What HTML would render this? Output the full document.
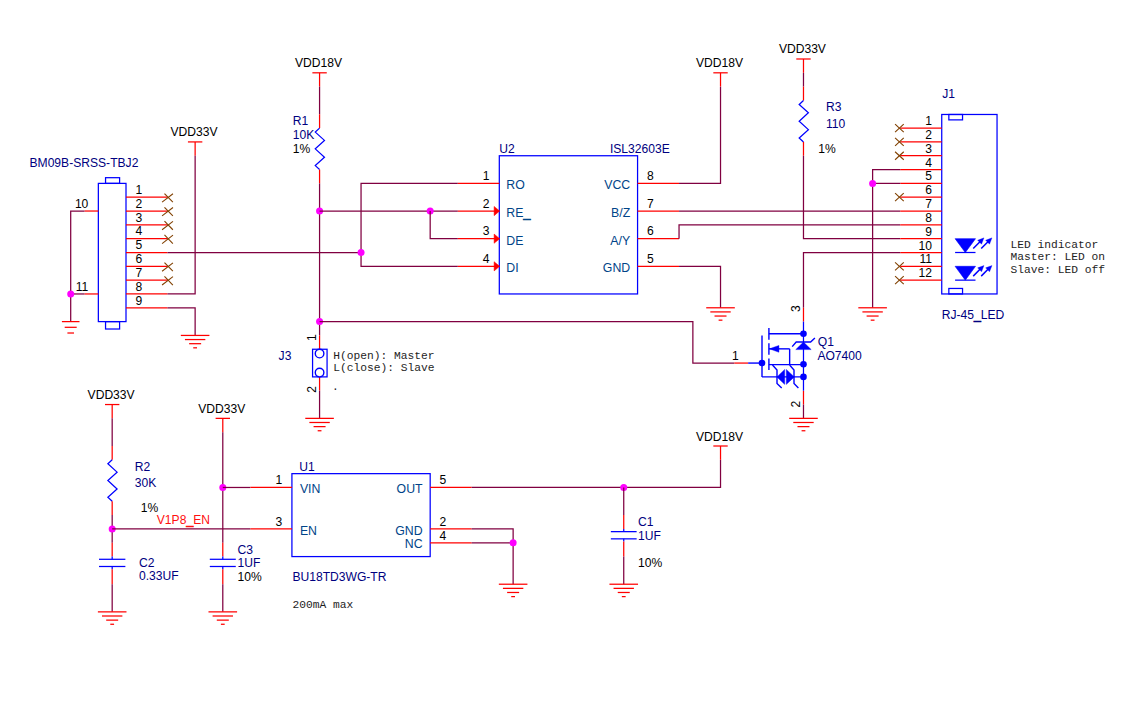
<!DOCTYPE html>
<html lang="en">
<head>
<meta charset="utf-8">
<title>RS-485 interface schematic</title>
<style>
html,body{margin:0;padding:0;background:#fff;}
body{width:1125px;height:716px;overflow:hidden;}
svg{display:block;}
text.s{font-family:"Liberation Sans",sans-serif;}
text.m{font-family:"Liberation Mono",monospace;fill:#1e1e1e;}
</style>
</head>
<body>
<svg width="1125" height="716" viewBox="0 0 1125 716">
<rect x="0" y="0" width="1125" height="716" fill="#ffffff"/>
<rect x="98.35" y="183.39" width="27.65" height="138.22" fill="none" stroke="#0000ff" stroke-width="1.25"/>
<rect x="105.55" y="177.69" width="14.05" height="5.70" fill="none" stroke="#0000ff" stroke-width="1.25"/>
<rect x="105.55" y="321.61" width="14.05" height="7.40" fill="none" stroke="#0000ff" stroke-width="1.25"/>
<line x1="126.00" y1="197.21" x2="167.48" y2="197.21" stroke="#ff0000" stroke-width="1.25"/>
<text class="s" x="135.50" y="194.01" fill="#000000" font-size="12.1" text-anchor="start">1</text>
<line x1="126.00" y1="211.03" x2="167.48" y2="211.03" stroke="#ff0000" stroke-width="1.25"/>
<text class="s" x="135.50" y="207.83" fill="#000000" font-size="12.1" text-anchor="start">2</text>
<line x1="126.00" y1="224.85" x2="167.48" y2="224.85" stroke="#ff0000" stroke-width="1.25"/>
<text class="s" x="135.50" y="221.65" fill="#000000" font-size="12.1" text-anchor="start">3</text>
<line x1="126.00" y1="238.67" x2="167.48" y2="238.67" stroke="#ff0000" stroke-width="1.25"/>
<text class="s" x="135.50" y="235.47" fill="#000000" font-size="12.1" text-anchor="start">4</text>
<line x1="126.00" y1="252.50" x2="167.48" y2="252.50" stroke="#ff0000" stroke-width="1.25"/>
<text class="s" x="135.50" y="249.30" fill="#000000" font-size="12.1" text-anchor="start">5</text>
<line x1="126.00" y1="266.32" x2="167.48" y2="266.32" stroke="#ff0000" stroke-width="1.25"/>
<text class="s" x="135.50" y="263.12" fill="#000000" font-size="12.1" text-anchor="start">6</text>
<line x1="126.00" y1="280.14" x2="167.48" y2="280.14" stroke="#ff0000" stroke-width="1.25"/>
<text class="s" x="135.50" y="276.94" fill="#000000" font-size="12.1" text-anchor="start">7</text>
<line x1="126.00" y1="293.96" x2="167.48" y2="293.96" stroke="#ff0000" stroke-width="1.25"/>
<text class="s" x="135.50" y="290.76" fill="#000000" font-size="12.1" text-anchor="start">8</text>
<line x1="126.00" y1="307.78" x2="167.48" y2="307.78" stroke="#ff0000" stroke-width="1.25"/>
<text class="s" x="135.50" y="304.58" fill="#000000" font-size="12.1" text-anchor="start">9</text>
<line x1="164.48" y1="193.51" x2="172.88" y2="202.11" stroke="#804000" stroke-width="1.1"/>
<line x1="162.08" y1="202.11" x2="172.98" y2="193.71" stroke="#804000" stroke-width="1.1"/>
<line x1="164.48" y1="207.33" x2="172.88" y2="215.93" stroke="#804000" stroke-width="1.1"/>
<line x1="162.08" y1="215.93" x2="172.98" y2="207.53" stroke="#804000" stroke-width="1.1"/>
<line x1="164.48" y1="221.15" x2="172.88" y2="229.75" stroke="#804000" stroke-width="1.1"/>
<line x1="162.08" y1="229.75" x2="172.98" y2="221.35" stroke="#804000" stroke-width="1.1"/>
<line x1="164.48" y1="234.97" x2="172.88" y2="243.57" stroke="#804000" stroke-width="1.1"/>
<line x1="162.08" y1="243.57" x2="172.98" y2="235.17" stroke="#804000" stroke-width="1.1"/>
<line x1="164.48" y1="262.62" x2="172.88" y2="271.22" stroke="#804000" stroke-width="1.1"/>
<line x1="162.08" y1="271.22" x2="172.98" y2="262.82" stroke="#804000" stroke-width="1.1"/>
<line x1="164.48" y1="276.44" x2="172.88" y2="285.04" stroke="#804000" stroke-width="1.1"/>
<line x1="162.08" y1="285.04" x2="172.98" y2="276.64" stroke="#804000" stroke-width="1.1"/>
<line x1="84.53" y1="211.03" x2="98.35" y2="211.03" stroke="#ff0000" stroke-width="1.25"/>
<line x1="84.53" y1="293.96" x2="98.35" y2="293.96" stroke="#ff0000" stroke-width="1.25"/>
<text class="s" x="88.35" y="207.83" fill="#000000" font-size="12.1" text-anchor="end">10</text>
<text class="s" x="88.35" y="290.76" fill="#000000" font-size="12.1" text-anchor="end">11</text>
<polyline points="84.53,211.03 70.70,211.03 70.70,321.61" fill="none" stroke="#800040" stroke-width="1.25"/>
<polyline points="84.53,293.96 70.70,293.96" fill="none" stroke="#800040" stroke-width="1.25"/>
<circle cx="70.70" cy="293.96" r="3.5" fill="#ff00ff"/>
<line x1="61.90" y1="321.61" x2="79.50" y2="321.61" stroke="#ff0000" stroke-width="1.25"/>
<line x1="64.70" y1="327.31" x2="76.70" y2="327.31" stroke="#ff0000" stroke-width="1.25"/>
<line x1="67.40" y1="333.01" x2="74.00" y2="333.01" stroke="#ff0000" stroke-width="1.25"/>
<text class="s" x="29.50" y="166.60" fill="#000080" font-size="12.1" text-anchor="start">BM09B-SRSS-TBJ2</text>
<line x1="187.93" y1="141.92" x2="202.33" y2="141.92" stroke="#ff0000" stroke-width="1.25"/>
<line x1="195.13" y1="141.92" x2="195.13" y2="155.74" stroke="#ff0000" stroke-width="1.25"/>
<text class="s" x="170.53" y="136.42" fill="#000000" font-size="12.1" text-anchor="start">VDD33V</text>
<polyline points="195.13,155.74 195.13,293.96 167.48,293.96" fill="none" stroke="#800040" stroke-width="1.25"/>
<polyline points="167.48,307.78 195.13,307.78 195.13,335.43" fill="none" stroke="#800040" stroke-width="1.25"/>
<line x1="180.83" y1="335.43" x2="209.43" y2="335.43" stroke="#ff0000" stroke-width="1.25"/>
<line x1="184.93" y1="339.56" x2="205.33" y2="339.56" stroke="#ff0000" stroke-width="1.25"/>
<line x1="189.13" y1="343.69" x2="201.13" y2="343.69" stroke="#ff0000" stroke-width="1.25"/>
<line x1="193.23" y1="347.82" x2="197.03" y2="347.82" stroke="#ff0000" stroke-width="1.25"/>
<polyline points="167.48,252.50 361.05,252.50" fill="none" stroke="#800040" stroke-width="1.25"/>
<line x1="312.37" y1="72.81" x2="326.77" y2="72.81" stroke="#ff0000" stroke-width="1.25"/>
<line x1="319.57" y1="72.81" x2="319.57" y2="86.63" stroke="#ff0000" stroke-width="1.25"/>
<text class="s" x="294.97" y="67.31" fill="#000000" font-size="12.1" text-anchor="start">VDD18V</text>
<polyline points="319.57,86.63 319.57,114.28" fill="none" stroke="#800040" stroke-width="1.25"/>
<line x1="319.57" y1="114.28" x2="319.57" y2="128.10" stroke="#ff0000" stroke-width="1.25"/>
<polyline points="319.57,128.10 315.27,132.10 324.47,140.40 315.27,148.85 324.47,157.30 315.27,165.60 319.57,169.57" fill="none" stroke="#0000ff" stroke-width="1.25" stroke-linejoin="miter"/>
<line x1="319.57" y1="169.56" x2="319.57" y2="183.39" stroke="#ff0000" stroke-width="1.25"/>
<polyline points="319.57,183.39 319.57,335.43" fill="none" stroke="#800040" stroke-width="1.25"/>
<text class="s" x="292.80" y="124.50" fill="#000080" font-size="12.1" text-anchor="start">R1</text>
<text class="s" x="292.80" y="138.50" fill="#000080" font-size="12.1" text-anchor="start">10K</text>
<text class="s" x="292.80" y="153.00" fill="#000000" font-size="12.1" text-anchor="start">1%</text>
<circle cx="319.57" cy="211.03" r="3.5" fill="#ff00ff"/>
<circle cx="319.57" cy="321.61" r="3.5" fill="#ff00ff"/>
<polyline points="319.57,211.03 457.83,211.03" fill="none" stroke="#800040" stroke-width="1.25"/>
<circle cx="430.18" cy="211.03" r="3.5" fill="#ff00ff"/>
<polyline points="430.18,211.03 430.18,238.67 457.83,238.67" fill="none" stroke="#800040" stroke-width="1.25"/>
<polyline points="457.83,183.39 361.05,183.39 361.05,266.32 457.83,266.32" fill="none" stroke="#800040" stroke-width="1.25"/>
<circle cx="361.05" cy="252.50" r="3.5" fill="#ff00ff"/>
<rect x="499.31" y="155.74" width="138.26" height="138.22" fill="none" stroke="#0000ff" stroke-width="1.25"/>
<text class="s" x="499.31" y="152.80" fill="#000080" font-size="12.1" text-anchor="start">U2</text>
<text class="s" x="609.90" y="152.80" fill="#000080" font-size="12.1" text-anchor="start">ISL32603E</text>
<line x1="457.83" y1="183.39" x2="499.31" y2="183.39" stroke="#ff0000" stroke-width="1.25"/>
<text class="s" x="489.51" y="180.09" fill="#000000" font-size="12.1" text-anchor="end">1</text>
<text class="s" x="506.31" y="189.49" fill="#004488" font-size="12.3" text-anchor="start">RO</text>
<line x1="457.83" y1="211.03" x2="499.31" y2="211.03" stroke="#ff0000" stroke-width="1.25"/>
<text class="s" x="489.51" y="207.73" fill="#000000" font-size="12.1" text-anchor="end">2</text>
<text class="s" x="506.31" y="217.13" fill="#004488" font-size="12.3" text-anchor="start">RE<tspan stroke="#004488" stroke-width="0.9">_</tspan></text>
<polygon points="494.11,206.43 499.61,211.03 494.11,215.63" fill="#ff0000" stroke="#ff0000" stroke-width="0.5" stroke-linejoin="miter"/>
<line x1="457.83" y1="238.67" x2="499.31" y2="238.67" stroke="#ff0000" stroke-width="1.25"/>
<text class="s" x="489.51" y="235.37" fill="#000000" font-size="12.1" text-anchor="end">3</text>
<text class="s" x="506.31" y="244.77" fill="#004488" font-size="12.3" text-anchor="start">DE</text>
<polygon points="494.11,234.07 499.61,238.67 494.11,243.27" fill="#ff0000" stroke="#ff0000" stroke-width="0.5" stroke-linejoin="miter"/>
<line x1="457.83" y1="266.32" x2="499.31" y2="266.32" stroke="#ff0000" stroke-width="1.25"/>
<text class="s" x="489.51" y="263.02" fill="#000000" font-size="12.1" text-anchor="end">4</text>
<text class="s" x="506.31" y="272.42" fill="#004488" font-size="12.3" text-anchor="start">DI</text>
<polygon points="494.11,261.72 499.61,266.32 494.11,270.92" fill="#ff0000" stroke="#ff0000" stroke-width="0.5" stroke-linejoin="miter"/>
<line x1="637.57" y1="183.39" x2="679.04" y2="183.39" stroke="#ff0000" stroke-width="1.25"/>
<text class="s" x="647.07" y="180.09" fill="#000000" font-size="12.1" text-anchor="start">8</text>
<text class="s" x="630.17" y="189.49" fill="#004488" font-size="12.3" text-anchor="end">VCC</text>
<line x1="637.57" y1="211.03" x2="679.04" y2="211.03" stroke="#ff0000" stroke-width="1.25"/>
<text class="s" x="647.07" y="207.73" fill="#000000" font-size="12.1" text-anchor="start">7</text>
<text class="s" x="630.17" y="217.13" fill="#004488" font-size="12.3" text-anchor="end">B/Z</text>
<line x1="637.57" y1="238.67" x2="679.04" y2="238.67" stroke="#ff0000" stroke-width="1.25"/>
<text class="s" x="647.07" y="235.37" fill="#000000" font-size="12.1" text-anchor="start">6</text>
<text class="s" x="630.17" y="244.77" fill="#004488" font-size="12.3" text-anchor="end">A/Y</text>
<line x1="637.57" y1="266.32" x2="679.04" y2="266.32" stroke="#ff0000" stroke-width="1.25"/>
<text class="s" x="647.07" y="263.02" fill="#000000" font-size="12.1" text-anchor="start">5</text>
<text class="s" x="630.17" y="272.42" fill="#004488" font-size="12.3" text-anchor="end">GND</text>
<line x1="713.32" y1="72.81" x2="727.72" y2="72.81" stroke="#ff0000" stroke-width="1.25"/>
<line x1="720.52" y1="72.81" x2="720.52" y2="86.63" stroke="#ff0000" stroke-width="1.25"/>
<text class="s" x="695.92" y="67.31" fill="#000000" font-size="12.1" text-anchor="start">VDD18V</text>
<polyline points="679.04,183.39 720.52,183.39 720.52,86.63" fill="none" stroke="#800040" stroke-width="1.25"/>
<polyline points="679.04,266.32 720.52,266.32 720.52,307.78" fill="none" stroke="#800040" stroke-width="1.25"/>
<line x1="706.22" y1="307.78" x2="734.82" y2="307.78" stroke="#ff0000" stroke-width="1.25"/>
<line x1="710.32" y1="311.91" x2="730.72" y2="311.91" stroke="#ff0000" stroke-width="1.25"/>
<line x1="714.52" y1="316.04" x2="726.52" y2="316.04" stroke="#ff0000" stroke-width="1.25"/>
<line x1="718.62" y1="320.17" x2="722.42" y2="320.17" stroke="#ff0000" stroke-width="1.25"/>
<polyline points="679.04,211.03 900.26,211.03" fill="none" stroke="#800040" stroke-width="1.25"/>
<polyline points="679.04,238.67 679.04,224.85 900.26,224.85" fill="none" stroke="#800040" stroke-width="1.25"/>
<line x1="796.28" y1="58.99" x2="810.68" y2="58.99" stroke="#ff0000" stroke-width="1.25"/>
<line x1="803.48" y1="58.99" x2="803.48" y2="72.81" stroke="#ff0000" stroke-width="1.25"/>
<text class="s" x="778.88" y="53.49" fill="#000000" font-size="12.1" text-anchor="start">VDD33V</text>
<polyline points="803.48,72.81 803.48,86.63" fill="none" stroke="#800040" stroke-width="1.25"/>
<line x1="803.48" y1="86.63" x2="803.48" y2="100.45" stroke="#ff0000" stroke-width="1.25"/>
<polyline points="803.48,100.45 799.18,104.45 808.38,112.75 799.18,121.20 808.38,129.65 799.18,137.95 803.48,141.92" fill="none" stroke="#0000ff" stroke-width="1.25" stroke-linejoin="miter"/>
<line x1="803.48" y1="141.92" x2="803.48" y2="155.74" stroke="#ff0000" stroke-width="1.25"/>
<polyline points="803.48,155.74 803.48,238.67 900.26,238.67" fill="none" stroke="#800040" stroke-width="1.25"/>
<text class="s" x="826.00" y="110.60" fill="#000080" font-size="12.1" text-anchor="start">R3</text>
<text class="s" x="826.00" y="127.80" fill="#000080" font-size="12.1" text-anchor="start">110</text>
<text class="s" x="818.30" y="152.80" fill="#000000" font-size="12.1" text-anchor="start">1%</text>
<rect x="941.74" y="114.48" width="55.30" height="179.48" fill="none" stroke="#0000ff" stroke-width="1.25"/>
<rect x="948.84" y="114.48" width="13.70" height="5.40" fill="none" stroke="#0000ff" stroke-width="1.25"/>
<rect x="948.84" y="288.46" width="13.70" height="5.50" fill="none" stroke="#0000ff" stroke-width="1.25"/>
<line x1="900.26" y1="128.10" x2="941.74" y2="128.10" stroke="#ff0000" stroke-width="1.25"/>
<text class="s" x="931.94" y="125.10" fill="#000000" font-size="12.1" text-anchor="end">1</text>
<line x1="900.26" y1="141.92" x2="941.74" y2="141.92" stroke="#ff0000" stroke-width="1.25"/>
<text class="s" x="931.94" y="138.92" fill="#000000" font-size="12.1" text-anchor="end">2</text>
<line x1="900.26" y1="155.74" x2="941.74" y2="155.74" stroke="#ff0000" stroke-width="1.25"/>
<text class="s" x="931.94" y="152.74" fill="#000000" font-size="12.1" text-anchor="end">3</text>
<line x1="900.26" y1="169.56" x2="941.74" y2="169.56" stroke="#ff0000" stroke-width="1.25"/>
<text class="s" x="931.94" y="166.56" fill="#000000" font-size="12.1" text-anchor="end">4</text>
<line x1="900.26" y1="183.39" x2="941.74" y2="183.39" stroke="#ff0000" stroke-width="1.25"/>
<text class="s" x="931.94" y="180.39" fill="#000000" font-size="12.1" text-anchor="end">5</text>
<line x1="900.26" y1="197.21" x2="941.74" y2="197.21" stroke="#ff0000" stroke-width="1.25"/>
<text class="s" x="931.94" y="194.21" fill="#000000" font-size="12.1" text-anchor="end">6</text>
<line x1="900.26" y1="211.03" x2="941.74" y2="211.03" stroke="#ff0000" stroke-width="1.25"/>
<text class="s" x="931.94" y="208.03" fill="#000000" font-size="12.1" text-anchor="end">7</text>
<line x1="900.26" y1="224.85" x2="941.74" y2="224.85" stroke="#ff0000" stroke-width="1.25"/>
<text class="s" x="931.94" y="221.85" fill="#000000" font-size="12.1" text-anchor="end">8</text>
<line x1="900.26" y1="238.67" x2="941.74" y2="238.67" stroke="#ff0000" stroke-width="1.25"/>
<text class="s" x="931.94" y="235.67" fill="#000000" font-size="12.1" text-anchor="end">9</text>
<line x1="900.26" y1="252.50" x2="941.74" y2="252.50" stroke="#ff0000" stroke-width="1.25"/>
<text class="s" x="931.94" y="249.50" fill="#000000" font-size="12.1" text-anchor="end">10</text>
<line x1="900.26" y1="266.32" x2="941.74" y2="266.32" stroke="#ff0000" stroke-width="1.25"/>
<text class="s" x="931.94" y="263.32" fill="#000000" font-size="12.1" text-anchor="end">11</text>
<line x1="900.26" y1="280.14" x2="941.74" y2="280.14" stroke="#ff0000" stroke-width="1.25"/>
<text class="s" x="931.94" y="277.14" fill="#000000" font-size="12.1" text-anchor="end">12</text>
<line x1="895.06" y1="124.10" x2="903.76" y2="132.10" stroke="#804000" stroke-width="1.1"/>
<line x1="895.06" y1="132.10" x2="903.76" y2="124.10" stroke="#804000" stroke-width="1.1"/>
<line x1="895.06" y1="137.92" x2="903.76" y2="145.92" stroke="#804000" stroke-width="1.1"/>
<line x1="895.06" y1="145.92" x2="903.76" y2="137.92" stroke="#804000" stroke-width="1.1"/>
<line x1="895.06" y1="151.74" x2="903.76" y2="159.74" stroke="#804000" stroke-width="1.1"/>
<line x1="895.06" y1="159.74" x2="903.76" y2="151.74" stroke="#804000" stroke-width="1.1"/>
<line x1="895.06" y1="193.21" x2="903.76" y2="201.21" stroke="#804000" stroke-width="1.1"/>
<line x1="895.06" y1="201.21" x2="903.76" y2="193.21" stroke="#804000" stroke-width="1.1"/>
<line x1="895.06" y1="262.32" x2="903.76" y2="270.32" stroke="#804000" stroke-width="1.1"/>
<line x1="895.06" y1="270.32" x2="903.76" y2="262.32" stroke="#804000" stroke-width="1.1"/>
<line x1="895.06" y1="276.14" x2="903.76" y2="284.14" stroke="#804000" stroke-width="1.1"/>
<line x1="895.06" y1="284.14" x2="903.76" y2="276.14" stroke="#804000" stroke-width="1.1"/>
<polyline points="900.26,169.56 872.61,169.56 872.61,307.78" fill="none" stroke="#800040" stroke-width="1.25"/>
<polyline points="900.26,183.39 872.61,183.39" fill="none" stroke="#800040" stroke-width="1.25"/>
<circle cx="872.61" cy="183.39" r="3.5" fill="#ff00ff"/>
<line x1="858.31" y1="307.78" x2="886.91" y2="307.78" stroke="#ff0000" stroke-width="1.25"/>
<line x1="862.41" y1="311.91" x2="882.81" y2="311.91" stroke="#ff0000" stroke-width="1.25"/>
<line x1="866.61" y1="316.04" x2="878.61" y2="316.04" stroke="#ff0000" stroke-width="1.25"/>
<line x1="870.71" y1="320.17" x2="874.51" y2="320.17" stroke="#ff0000" stroke-width="1.25"/>
<polyline points="900.26,252.50 803.48,252.50 803.48,307.78" fill="none" stroke="#800040" stroke-width="1.25"/>
<text class="s" x="942.30" y="97.80" fill="#000080" font-size="12.1" text-anchor="start">J1</text>
<text class="s" x="941.70" y="318.50" fill="#000080" font-size="12.1" text-anchor="start">RJ-45<tspan stroke="#000080" stroke-width="0.9">_</tspan>LED</text>
<polygon points="955.10,238.67 975.50,238.67 965.30,252.50" fill="#0000ff" stroke="#0000ff" stroke-width="0.6" stroke-linejoin="miter"/>
<line x1="955.10" y1="252.50" x2="975.50" y2="252.50" stroke="#0000ff" stroke-width="1.25"/>
<line x1="973.20" y1="248.50" x2="981.50" y2="240.17" stroke="#0000ff" stroke-width="1.5"/>
<polygon points="984.00,237.87 981.55,244.21 977.62,240.22" fill="#0000ff" stroke="#0000ff" stroke-width="0.3" stroke-linejoin="miter"/>
<line x1="981.20" y1="248.50" x2="989.50" y2="240.17" stroke="#0000ff" stroke-width="1.5"/>
<polygon points="992.00,237.87 989.55,244.21 985.62,240.22" fill="#0000ff" stroke="#0000ff" stroke-width="0.3" stroke-linejoin="miter"/>
<polygon points="955.10,266.32 975.50,266.32 965.30,280.14" fill="#0000ff" stroke="#0000ff" stroke-width="0.6" stroke-linejoin="miter"/>
<line x1="955.10" y1="280.14" x2="975.50" y2="280.14" stroke="#0000ff" stroke-width="1.25"/>
<line x1="973.20" y1="276.14" x2="981.50" y2="267.82" stroke="#0000ff" stroke-width="1.5"/>
<polygon points="984.00,265.52 981.54,271.86 977.62,267.87" fill="#0000ff" stroke="#0000ff" stroke-width="0.3" stroke-linejoin="miter"/>
<line x1="981.20" y1="276.14" x2="989.50" y2="267.82" stroke="#0000ff" stroke-width="1.5"/>
<polygon points="992.00,265.52 989.54,271.86 985.62,267.87" fill="#0000ff" stroke="#0000ff" stroke-width="0.3" stroke-linejoin="miter"/>
<text class="m" x="1010.60" y="248.10" fill="#000000" font-size="11.25" text-anchor="start">LED indicator</text>
<text class="m" x="1010.60" y="260.40" fill="#000000" font-size="11.25" text-anchor="start">Master: LED on</text>
<text class="m" x="1010.60" y="272.70" fill="#000000" font-size="11.25" text-anchor="start">Slave: LED off</text>
<line x1="319.57" y1="335.43" x2="319.57" y2="349.25" stroke="#ff0000" stroke-width="1.25"/>
<line x1="319.57" y1="376.89" x2="319.57" y2="390.72" stroke="#ff0000" stroke-width="1.25"/>
<rect x="312.57" y="349.25" width="14.50" height="27.64" fill="none" stroke="#0000ff" stroke-width="1.25"/>
<circle cx="319.57" cy="353.55" r="4.3" fill="#fff" stroke="#0000ff" stroke-width="1.4"/>
<circle cx="319.57" cy="372.59" r="4.3" fill="#fff" stroke="#0000ff" stroke-width="1.4"/>
<polyline points="319.57,390.72 319.57,418.36" fill="none" stroke="#800040" stroke-width="1.25"/>
<line x1="305.27" y1="418.36" x2="333.87" y2="418.36" stroke="#ff0000" stroke-width="1.25"/>
<line x1="309.37" y1="422.49" x2="329.77" y2="422.49" stroke="#ff0000" stroke-width="1.25"/>
<line x1="313.57" y1="426.62" x2="325.57" y2="426.62" stroke="#ff0000" stroke-width="1.25"/>
<line x1="317.67" y1="430.75" x2="321.47" y2="430.75" stroke="#ff0000" stroke-width="1.25"/>
<text class="s" x="278.60" y="359.60" fill="#000080" font-size="12.1" text-anchor="start">J3</text>
<text class="s" x="316.37" y="334.23" fill="#000000" font-size="12.1" text-anchor="end" transform="rotate(-90 316.37 334.23)">1</text>
<text class="s" x="316.37" y="392.72" fill="#000000" font-size="12.1" text-anchor="start" transform="rotate(-90 316.37 392.72)">2</text>
<text class="m" x="333.30" y="358.70" fill="#000000" font-size="11.25" text-anchor="start">H(open): Master</text>
<text class="m" x="333.30" y="370.90" fill="#000000" font-size="11.25" text-anchor="start">L(close): Slave</text>
<text class="m" x="332.00" y="390.30" fill="#000000" font-size="11.25" text-anchor="start">.</text>
<polyline points="319.57,321.61 692.87,321.61 692.87,363.07 734.35,363.07" fill="none" stroke="#800040" stroke-width="1.25"/>
<line x1="803.48" y1="307.78" x2="803.48" y2="321.61" stroke="#ff0000" stroke-width="1.25"/>
<line x1="803.48" y1="390.72" x2="803.48" y2="404.54" stroke="#ff0000" stroke-width="1.25"/>
<line x1="734.35" y1="363.07" x2="748.17" y2="363.07" stroke="#ff0000" stroke-width="1.25"/>
<line x1="803.48" y1="321.61" x2="803.48" y2="390.72" stroke="#0000ff" stroke-width="1.25"/>
<polyline points="803.48,404.54 803.48,418.36" fill="none" stroke="#800040" stroke-width="1.25"/>
<line x1="789.18" y1="418.36" x2="817.78" y2="418.36" stroke="#ff0000" stroke-width="1.25"/>
<line x1="793.28" y1="422.49" x2="813.68" y2="422.49" stroke="#ff0000" stroke-width="1.25"/>
<line x1="797.48" y1="426.62" x2="809.48" y2="426.62" stroke="#ff0000" stroke-width="1.25"/>
<line x1="801.58" y1="430.75" x2="805.38" y2="430.75" stroke="#ff0000" stroke-width="1.25"/>
<line x1="748.17" y1="363.07" x2="762.00" y2="363.07" stroke="#0000ff" stroke-width="1.4"/>
<line x1="762.00" y1="335.43" x2="762.00" y2="376.89" stroke="#0000ff" stroke-width="1.4"/>
<line x1="762.00" y1="376.89" x2="803.48" y2="376.89" stroke="#0000ff" stroke-width="1.4"/>
<line x1="768.91" y1="327.90" x2="768.91" y2="339.80" stroke="#0000ff" stroke-width="1.4"/>
<line x1="768.91" y1="343.20" x2="768.91" y2="354.70" stroke="#0000ff" stroke-width="1.4"/>
<line x1="768.91" y1="358.40" x2="768.91" y2="370.10" stroke="#0000ff" stroke-width="1.4"/>
<line x1="768.91" y1="333.80" x2="803.48" y2="333.80" stroke="#0000ff" stroke-width="1.4"/>
<line x1="768.91" y1="348.85" x2="789.65" y2="348.85" stroke="#0000ff" stroke-width="1.4"/>
<line x1="789.65" y1="348.85" x2="789.65" y2="364.60" stroke="#0000ff" stroke-width="1.4"/>
<line x1="768.91" y1="364.60" x2="803.48" y2="364.60" stroke="#0000ff" stroke-width="1.4"/>
<polygon points="769.41,348.85 778.91,345.45 778.91,352.25" fill="#0000ff" stroke="#0000ff" stroke-width="0.4" stroke-linejoin="miter"/>
<circle cx="803.48" cy="333.80" r="3.3" fill="#0000ff"/>
<circle cx="803.48" cy="364.20" r="3.3" fill="#0000ff"/>
<circle cx="803.48" cy="376.89" r="3.3" fill="#0000ff"/>
<circle cx="762.00" cy="363.07" r="3.3" fill="#0000ff"/>
<polygon points="803.48,342.00 795.78,349.60 811.18,349.60" fill="#0000ff" stroke="#0000ff" stroke-width="0.4" stroke-linejoin="miter"/>
<polyline points="792.20,346.60 796.20,342.00 810.60,342.00 814.90,338.00" fill="none" stroke="#0000ff" stroke-width="1.4" stroke-linejoin="miter"/>
<polygon points="776.90,376.89 784.70,369.39 784.70,384.39" fill="#0000ff" stroke="#0000ff" stroke-width="0.4" stroke-linejoin="miter"/>
<polygon points="794.30,376.89 786.30,369.39 786.30,384.39" fill="#0000ff" stroke="#0000ff" stroke-width="0.4" stroke-linejoin="miter"/>
<polyline points="772.50,365.00 777.00,370.00 777.00,383.40 781.70,387.90" fill="none" stroke="#0000ff" stroke-width="1.4" stroke-linejoin="miter"/>
<polyline points="789.60,365.00 794.00,370.00 794.00,383.40 798.40,387.90" fill="none" stroke="#0000ff" stroke-width="1.4" stroke-linejoin="miter"/>
<text class="s" x="817.80" y="345.70" fill="#000080" font-size="12.1" text-anchor="start">Q1</text>
<text class="s" x="817.40" y="359.60" fill="#000080" font-size="12.1" text-anchor="start">AO7400</text>
<text class="s" x="732.00" y="359.50" fill="#000000" font-size="12.1" text-anchor="start">1</text>
<text class="s" x="799.68" y="311.98" fill="#000000" font-size="12.1" text-anchor="start" transform="rotate(-90 799.68 311.98)">3</text>
<text class="s" x="799.68" y="407.54" fill="#000000" font-size="12.1" text-anchor="start" transform="rotate(-90 799.68 407.54)">2</text>
<line x1="104.98" y1="404.54" x2="119.38" y2="404.54" stroke="#ff0000" stroke-width="1.25"/>
<line x1="112.18" y1="404.54" x2="112.18" y2="418.36" stroke="#ff0000" stroke-width="1.25"/>
<text class="s" x="87.58" y="399.04" fill="#000000" font-size="12.1" text-anchor="start">VDD33V</text>
<polyline points="112.18,418.36 112.18,446.00" fill="none" stroke="#800040" stroke-width="1.25"/>
<line x1="112.18" y1="446.00" x2="112.18" y2="459.83" stroke="#ff0000" stroke-width="1.25"/>
<polyline points="112.18,459.83 107.88,463.83 117.08,472.13 107.88,480.58 117.08,489.03 107.88,497.33 112.18,501.30" fill="none" stroke="#0000ff" stroke-width="1.25" stroke-linejoin="miter"/>
<line x1="112.18" y1="501.29" x2="112.18" y2="515.11" stroke="#ff0000" stroke-width="1.25"/>
<polyline points="112.18,515.11 112.18,542.76" fill="none" stroke="#800040" stroke-width="1.25"/>
<circle cx="112.18" cy="528.94" r="3.5" fill="#ff00ff"/>
<polyline points="112.18,528.94 250.44,528.94" fill="none" stroke="#800040" stroke-width="1.25"/>
<line x1="112.18" y1="542.76" x2="112.18" y2="556.59" stroke="#ff0000" stroke-width="1.25"/>
<line x1="112.18" y1="556.59" x2="112.18" y2="559.29" stroke="#0000ff" stroke-width="1.25"/>
<line x1="98.98" y1="559.29" x2="125.38" y2="559.29" stroke="#0000ff" stroke-width="1.25"/>
<line x1="98.98" y1="566.49" x2="125.38" y2="566.49" stroke="#0000ff" stroke-width="1.25"/>
<line x1="112.18" y1="566.49" x2="112.18" y2="569.19" stroke="#0000ff" stroke-width="1.25"/>
<line x1="112.18" y1="569.19" x2="112.18" y2="584.22" stroke="#ff0000" stroke-width="1.25"/>
<polyline points="112.18,584.22 112.18,611.87" fill="none" stroke="#800040" stroke-width="1.25"/>
<line x1="97.88" y1="611.87" x2="126.48" y2="611.87" stroke="#ff0000" stroke-width="1.25"/>
<line x1="101.98" y1="616.00" x2="122.38" y2="616.00" stroke="#ff0000" stroke-width="1.25"/>
<line x1="106.18" y1="620.13" x2="118.18" y2="620.13" stroke="#ff0000" stroke-width="1.25"/>
<line x1="110.28" y1="624.26" x2="114.08" y2="624.26" stroke="#ff0000" stroke-width="1.25"/>
<text class="s" x="134.70" y="470.50" fill="#000080" font-size="12.1" text-anchor="start">R2</text>
<text class="s" x="134.70" y="486.60" fill="#000080" font-size="12.1" text-anchor="start">30K</text>
<text class="s" x="140.70" y="511.60" fill="#000000" font-size="12.1" text-anchor="start">1%</text>
<text class="s" x="156.80" y="524.30" fill="#ff1010" font-size="12.1" text-anchor="start">V1P8<tspan stroke="#ff1010" stroke-width="0.9">_</tspan>EN</text>
<text class="s" x="139.00" y="566.50" fill="#000080" font-size="12.1" text-anchor="start">C2</text>
<text class="s" x="139.00" y="579.80" fill="#000080" font-size="12.1" text-anchor="start">0.33UF</text>
<line x1="215.59" y1="418.36" x2="229.99" y2="418.36" stroke="#ff0000" stroke-width="1.25"/>
<line x1="222.79" y1="418.36" x2="222.79" y2="432.18" stroke="#ff0000" stroke-width="1.25"/>
<text class="s" x="198.19" y="412.86" fill="#000000" font-size="12.1" text-anchor="start">VDD33V</text>
<polyline points="222.79,432.18 222.79,542.76" fill="none" stroke="#800040" stroke-width="1.25"/>
<circle cx="222.79" cy="487.47" r="3.5" fill="#ff00ff"/>
<polyline points="222.79,487.47 250.44,487.47" fill="none" stroke="#800040" stroke-width="1.25"/>
<line x1="222.79" y1="542.76" x2="222.79" y2="556.59" stroke="#ff0000" stroke-width="1.25"/>
<line x1="222.79" y1="556.59" x2="222.79" y2="559.29" stroke="#0000ff" stroke-width="1.25"/>
<line x1="209.79" y1="559.29" x2="235.79" y2="559.29" stroke="#0000ff" stroke-width="1.25"/>
<line x1="209.79" y1="566.49" x2="235.79" y2="566.49" stroke="#0000ff" stroke-width="1.25"/>
<line x1="222.79" y1="566.49" x2="222.79" y2="569.19" stroke="#0000ff" stroke-width="1.25"/>
<line x1="222.79" y1="569.19" x2="222.79" y2="584.22" stroke="#ff0000" stroke-width="1.25"/>
<polyline points="222.79,584.22 222.79,611.87" fill="none" stroke="#800040" stroke-width="1.25"/>
<line x1="208.49" y1="611.87" x2="237.09" y2="611.87" stroke="#ff0000" stroke-width="1.25"/>
<line x1="212.59" y1="616.00" x2="232.99" y2="616.00" stroke="#ff0000" stroke-width="1.25"/>
<line x1="216.79" y1="620.13" x2="228.79" y2="620.13" stroke="#ff0000" stroke-width="1.25"/>
<line x1="220.89" y1="624.26" x2="224.69" y2="624.26" stroke="#ff0000" stroke-width="1.25"/>
<text class="s" x="237.50" y="553.50" fill="#000080" font-size="12.1" text-anchor="start">C3</text>
<text class="s" x="237.50" y="566.50" fill="#000080" font-size="12.1" text-anchor="start">1UF</text>
<text class="s" x="237.50" y="580.70" fill="#000000" font-size="12.1" text-anchor="start">10%</text>
<rect x="291.92" y="473.65" width="138.26" height="82.93" fill="none" stroke="#0000ff" stroke-width="1.25"/>
<text class="s" x="299.20" y="470.70" fill="#000080" font-size="12.1" text-anchor="start">U1</text>
<text class="s" x="292.40" y="580.50" fill="#000080" font-size="12.1" text-anchor="start">BU18TD3WG-TR</text>
<text class="m" x="292.40" y="608.00" fill="#000000" font-size="11.25" text-anchor="start">200mA max</text>
<line x1="250.44" y1="487.47" x2="291.92" y2="487.47" stroke="#ff0000" stroke-width="1.25"/>
<text class="s" x="282.22" y="484.37" fill="#000000" font-size="12.1" text-anchor="end">1</text>
<text class="s" x="299.92" y="493.07" fill="#004488" font-size="12.3" text-anchor="start">VIN</text>
<line x1="250.44" y1="528.94" x2="291.92" y2="528.94" stroke="#ff0000" stroke-width="1.25"/>
<text class="s" x="282.22" y="525.84" fill="#000000" font-size="12.1" text-anchor="end">3</text>
<text class="s" x="299.92" y="534.54" fill="#004488" font-size="12.3" text-anchor="start">EN</text>
<line x1="430.18" y1="487.47" x2="471.65" y2="487.47" stroke="#ff0000" stroke-width="1.25"/>
<text class="s" x="439.58" y="484.37" fill="#000000" font-size="12.1" text-anchor="start">5</text>
<text class="s" x="422.58" y="493.07" fill="#004488" font-size="12.3" text-anchor="end">OUT</text>
<line x1="430.18" y1="528.94" x2="471.65" y2="528.94" stroke="#ff0000" stroke-width="1.25"/>
<text class="s" x="439.58" y="525.84" fill="#000000" font-size="12.1" text-anchor="start">2</text>
<text class="s" x="422.58" y="534.54" fill="#004488" font-size="12.3" text-anchor="end">GND</text>
<line x1="430.18" y1="542.76" x2="471.65" y2="542.76" stroke="#ff0000" stroke-width="1.25"/>
<text class="s" x="439.58" y="539.66" fill="#000000" font-size="12.1" text-anchor="start">4</text>
<text class="s" x="422.58" y="547.56" fill="#004488" font-size="12.3" text-anchor="end">NC</text>
<polyline points="471.65,528.94 513.13,528.94 513.13,584.22" fill="none" stroke="#800040" stroke-width="1.25"/>
<polyline points="471.65,542.76 513.13,542.76" fill="none" stroke="#800040" stroke-width="1.25"/>
<circle cx="513.13" cy="542.76" r="3.5" fill="#ff00ff"/>
<line x1="498.83" y1="584.22" x2="527.43" y2="584.22" stroke="#ff0000" stroke-width="1.25"/>
<line x1="502.93" y1="588.35" x2="523.33" y2="588.35" stroke="#ff0000" stroke-width="1.25"/>
<line x1="507.13" y1="592.48" x2="519.13" y2="592.48" stroke="#ff0000" stroke-width="1.25"/>
<line x1="511.23" y1="596.61" x2="515.03" y2="596.61" stroke="#ff0000" stroke-width="1.25"/>
<polyline points="471.65,487.47 720.52,487.47 720.52,459.83" fill="none" stroke="#800040" stroke-width="1.25"/>
<line x1="713.32" y1="446.00" x2="727.72" y2="446.00" stroke="#ff0000" stroke-width="1.25"/>
<line x1="720.52" y1="446.00" x2="720.52" y2="459.83" stroke="#ff0000" stroke-width="1.25"/>
<text class="s" x="695.92" y="440.50" fill="#000000" font-size="12.1" text-anchor="start">VDD18V</text>
<circle cx="623.74" cy="487.47" r="3.5" fill="#ff00ff"/>
<polyline points="623.74,487.47 623.74,515.11" fill="none" stroke="#800040" stroke-width="1.25"/>
<line x1="623.74" y1="515.11" x2="623.74" y2="528.95" stroke="#ff0000" stroke-width="1.25"/>
<line x1="623.74" y1="528.95" x2="623.74" y2="531.65" stroke="#0000ff" stroke-width="1.25"/>
<line x1="610.84" y1="531.65" x2="636.64" y2="531.65" stroke="#0000ff" stroke-width="1.25"/>
<line x1="610.84" y1="538.85" x2="636.64" y2="538.85" stroke="#0000ff" stroke-width="1.25"/>
<line x1="623.74" y1="538.85" x2="623.74" y2="541.55" stroke="#0000ff" stroke-width="1.25"/>
<line x1="623.74" y1="541.55" x2="623.74" y2="556.58" stroke="#ff0000" stroke-width="1.25"/>
<polyline points="623.74,556.58 623.74,584.22" fill="none" stroke="#800040" stroke-width="1.25"/>
<line x1="609.44" y1="584.22" x2="638.04" y2="584.22" stroke="#ff0000" stroke-width="1.25"/>
<line x1="613.54" y1="588.35" x2="633.94" y2="588.35" stroke="#ff0000" stroke-width="1.25"/>
<line x1="617.74" y1="592.48" x2="629.74" y2="592.48" stroke="#ff0000" stroke-width="1.25"/>
<line x1="621.84" y1="596.61" x2="625.64" y2="596.61" stroke="#ff0000" stroke-width="1.25"/>
<text class="s" x="638.00" y="525.60" fill="#000080" font-size="12.1" text-anchor="start">C1</text>
<text class="s" x="638.00" y="539.70" fill="#000080" font-size="12.1" text-anchor="start">1UF</text>
<text class="s" x="638.00" y="566.80" fill="#000000" font-size="12.1" text-anchor="start">10%</text>
</svg>
</body>
</html>
